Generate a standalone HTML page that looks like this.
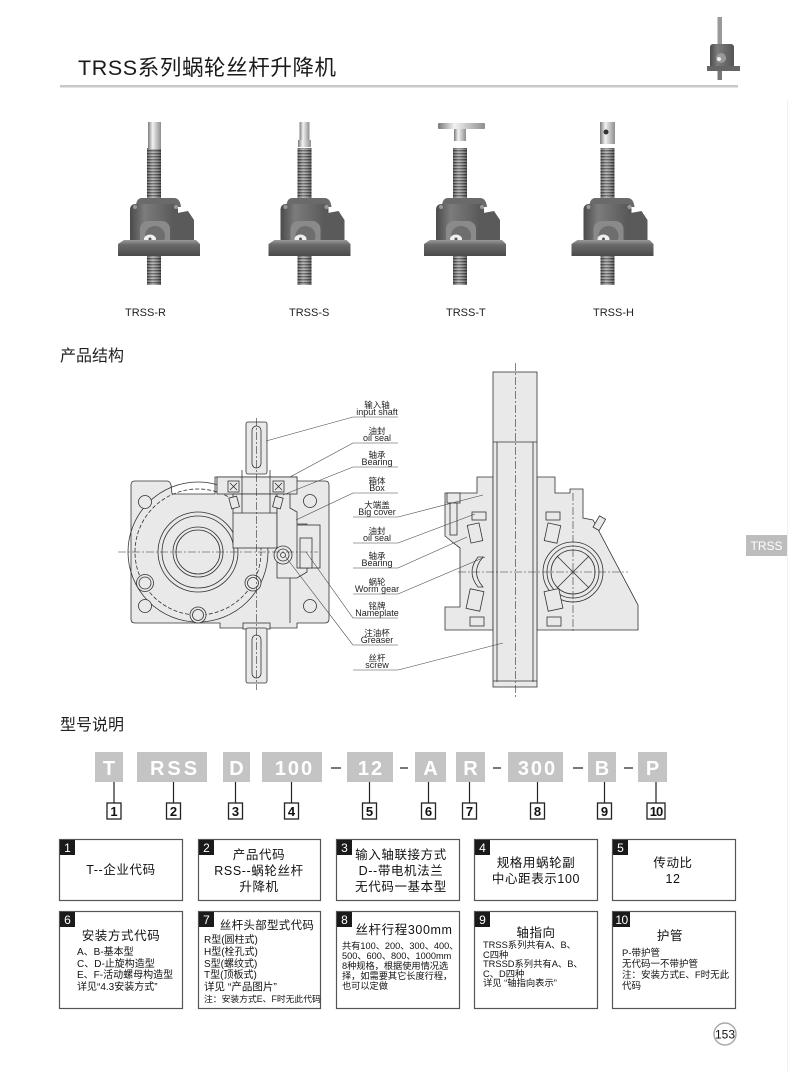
<!DOCTYPE html>
<html><head><meta charset="utf-8">
<style>
html,body{margin:0;padding:0;background:#fff;}
svg{display:block;}
text{font-family:"Liberation Sans","Noto Sans CJK SC",sans-serif;}
</style></head><body>
<svg width="800" height="1071" viewBox="0 0 800 1071" xmlns="http://www.w3.org/2000/svg" xmlns:xlink="http://www.w3.org/1999/xlink">
<defs>
<pattern id="th" width="4" height="3" patternUnits="userSpaceOnUse"><rect width="4" height="3" fill="#a4a4a4"/><rect width="4" height="1.4" fill="#454545"/></pattern>
<linearGradient id="cyl" x1="0" x2="1"><stop offset="0" stop-color="#000" stop-opacity="0.3"/><stop offset="0.4" stop-color="#fff" stop-opacity="0.25"/><stop offset="1" stop-color="#000" stop-opacity="0.4"/></linearGradient>
<linearGradient id="smooth" x1="0" x2="1"><stop offset="0" stop-color="#7a7a7a"/><stop offset="0.35" stop-color="#f2f2f2"/><stop offset="1" stop-color="#8e8e8e"/></linearGradient>
<linearGradient id="bodyg" x1="0" x2="1"><stop offset="0" stop-color="#4a4a4a"/><stop offset="0.3" stop-color="#7c7c7c"/><stop offset="1" stop-color="#555"/></linearGradient>
<linearGradient id="baseg" x1="0" y1="0" x2="0" y2="1"><stop offset="0" stop-color="#9a9a9a"/><stop offset="0.3" stop-color="#6a6a6a"/><stop offset="1" stop-color="#4a4a4a"/></linearGradient>
<g id="jack">
  <rect x="-7" y="148" width="14" height="52" fill="url(#th)"/>
  <rect x="-7" y="148" width="14" height="52" fill="url(#cyl)"/>
  <path d="M-18,207 Q-18,198 -12,198 L20,198 Q26,198 27,207 Z" fill="#6a6a6a"/>
  <rect x="-24" y="204" width="48" height="40" rx="5" fill="url(#bodyg)"/>
  <circle cx="-19" cy="207" r="2" fill="#999"/><circle cx="22" cy="207" r="2" fill="#999"/>
  <path d="M18,214 L34,211 L40,220 L40,244 L18,244 Z" fill="#5a5a5a"/>
  <rect x="-14" y="221" width="30" height="27" rx="8" fill="#8a8a8a"/>
  <circle cx="1" cy="236" r="10" fill="#6e6e6e"/>
  <ellipse cx="-4" cy="239" rx="6" ry="4.5" fill="#f0f0f0"/>
  <circle cx="-4" cy="239" r="1.5" fill="#555"/>
  <path d="M-36,244 L-30,240 L42,240 L46,244 L46,256 L-36,256 Z" fill="url(#baseg)"/>
  <rect x="-7" y="256" width="14" height="29" fill="url(#th)"/>
  <rect x="-7" y="256" width="14" height="29" fill="url(#cyl)"/>
</g>
</defs>

<!-- Header -->
<text x="78" y="75" font-size="21.5" fill="#1a1a1a" letter-spacing="0.6">TRSS系列蜗轮丝杆升降机</text>
<rect x="60" y="85" width="678" height="2.5" fill="#c8c8c8"/>
<g>
  <rect x="717.5" y="17" width="4.5" height="30" fill="#999"/>
  <rect x="710" y="44" width="24" height="24" rx="3" fill="url(#bodyg)"/>
  <circle cx="721" cy="58" r="5" fill="#999"/>
  <circle cx="719" cy="59" r="2" fill="#eee"/>
  <rect x="707" y="66" width="33" height="5" fill="#666"/>
  <rect x="717.5" y="71" width="4.5" height="9" fill="#777"/>
</g>

<!-- Products -->
<use xlink:href="#jack" transform="translate(154,0)"/>
<rect x="148" y="122" width="13" height="27" fill="url(#smooth)"/>
<use xlink:href="#jack" transform="translate(304.5,0)"/>
<rect x="299.5" y="122" width="10" height="18" fill="url(#smooth)"/>
<rect x="298" y="140" width="13" height="7" fill="url(#smooth)"/>
<use xlink:href="#jack" transform="translate(460,0)"/>
<rect x="438" y="123" width="47" height="6" rx="1" fill="url(#smooth)"/>
<rect x="454" y="129" width="12" height="12" fill="url(#smooth)"/>
<use xlink:href="#jack" transform="translate(607.5,0)"/>
<rect x="600" y="122" width="15" height="22" fill="url(#smooth)"/>
<circle cx="606" cy="132" r="2.5" fill="#333"/>

<g font-size="11" fill="#222">
<text x="125" y="316">TRSS-R</text>
<text x="289" y="316">TRSS-S</text>
<text x="446" y="316">TRSS-T</text>
<text x="593" y="316">TRSS-H</text>
</g>

<!-- Section title -->
<text x="60" y="361" font-size="16" fill="#222">产品结构</text>

<!-- Left diagram -->
<g fill="#e9e9e9" stroke="#333" stroke-width="0.8">
  <path d="M131,485 Q131,481 135,481 L167,481 Q170,481 171,485 L172,494 L215,494 L215,477 L297,477 L297,481 L325,481 Q329,481 329,485 L329,619 Q329,623 325,623 L297,623 L297,628 L220,628 L220,623 L135,623 Q131,623 131,619 Z"/>
  <circle cx="198" cy="552" r="70" fill="none"/>
  <circle cx="198" cy="552" r="63" fill="none" stroke-dasharray="4 2"/>
  <circle cx="198" cy="552" r="40" fill="none"/>
  <circle cx="198" cy="552" r="36" fill="none"/>
  <circle cx="198" cy="552" r="25" fill="none"/>
  <circle cx="198" cy="552" r="22" fill="none"/>
  <circle cx="145" cy="502" r="6.5"/>
  <circle cx="145" cy="583" r="8.5"/><circle cx="145" cy="583" r="6"/>
  <circle cx="145" cy="606" r="6.5"/>
  <circle cx="310" cy="501" r="6.5"/>
  <circle cx="310" cy="606" r="6.5"/>
  <circle cx="253" cy="583" r="8"/><circle cx="253" cy="583" r="5.5"/>
  <circle cx="198" cy="615" r="8"/><circle cx="198" cy="615" r="5.5"/>
  <rect x="217" y="477" width="80" height="17"/>
  <rect x="233" y="494" width="44" height="54"/>
  <path d="M277,494 L290,494 L290,508 L297,512 L297,524 L307,524 L307,572 L297,578 L277,578 Z"/>
  <rect x="297" y="525" width="23" height="43"/>
  <rect x="300" y="538" width="12" height="30"/>
  <line x1="290" y1="578" x2="290" y2="623"/>
  <line x1="242" y1="470" x2="242" y2="513"/>
  <line x1="270" y1="470" x2="270" y2="513"/>
  <line x1="233" y1="513" x2="277" y2="513"/>
  <rect x="228" y="481" width="11" height="11"/>
  <rect x="273" y="481" width="11" height="11"/>
  <path d="M230,483 L237,490 M237,483 L230,490 M275,483 L282,490 M282,483 L275,490" fill="none"/>
  <rect x="230" y="497" width="8" height="11" transform="rotate(-15 234 502)"/>
  <rect x="274" y="497" width="8" height="11" transform="rotate(15 278 502)"/>
  <rect x="246" y="422" width="21" height="52" rx="2"/>
  <rect x="252" y="426" width="9" height="42" rx="4.5"/>
  <rect x="243" y="623" width="27" height="6"/>
  <rect x="246" y="628" width="21" height="55" rx="2"/>
  <rect x="252" y="635" width="9" height="43" rx="4.5"/>
  <circle cx="283" cy="555" r="9"/><circle cx="283" cy="555" r="6"/><circle cx="283" cy="555" r="2.5"/>
</g>
<g stroke="#333" stroke-width="0.6" stroke-dasharray="8 2 2 2" fill="none">
  <line x1="256.5" y1="418" x2="256.5" y2="690"/>
  <line x1="118" y1="552" x2="318" y2="552"/>
</g>

<!-- Right diagram -->
<g fill="#e9e9e9" stroke="#333" stroke-width="0.8">
  <path d="M477,477 L493,477 L493,630 L445,630 L445,607 L460,607 L460,548 Q452,542 445,536 L445,493 L477,493 Z"/>
  <path d="M537,477 L555,477 L555,493 L570,493 L570,489 L583,489 L583,518 L593,520 L638,605 L638,630 L537,630 Z"/>
  <rect x="447" y="493" width="13" height="10"/>
  <rect x="450" y="503" width="7" height="32"/>
  <circle cx="573" cy="572" r="30" fill="none"/>
  <circle cx="573" cy="572" r="26"/>
  <circle cx="573" cy="572" r="22"/>
  <path d="M557,556 L589,588 M589,556 L557,588" fill="none"/>
  <rect x="472" y="512" width="14" height="8"/>
  <rect x="469" y="524" width="12" height="18" transform="rotate(-12 475 533)"/>
  <rect x="468" y="590" width="14" height="20" transform="rotate(12 475 600)"/>
  <rect x="470" y="617" width="14" height="9"/>
  <rect x="546" y="512" width="14" height="8"/>
  <rect x="546" y="524" width="13" height="18" transform="rotate(12 552 533)"/>
  <rect x="546" y="590" width="15" height="20" transform="rotate(-12 553 600)"/>
  <rect x="547" y="617" width="14" height="9"/>
  <path d="M483,557 Q470,572 483,587 L478,587 Q466,572 478,557 Z"/>
  <rect x="596" y="517" width="7" height="13" transform="rotate(30 600 523)"/>
  <rect x="493" y="372" width="44" height="315"/>
  <line x1="493" y1="442" x2="537" y2="442"/>
  <line x1="497" y1="442" x2="497" y2="682"/>
  <line x1="533" y1="442" x2="533" y2="682"/>
  <line x1="493" y1="681" x2="537" y2="681"/>
</g>
<g stroke="#333" stroke-width="0.6" stroke-dasharray="8 2 2 2" fill="none">
  <line x1="515.5" y1="363" x2="515.5" y2="697"/>
  <line x1="458" y1="572" x2="628" y2="572"/>
  <line x1="573" y1="493" x2="573" y2="632"/>
</g>

<!-- Leaders -->
<g stroke="#444" stroke-width="0.6" fill="none">
  <path d="M398,417 L353,417 L266,441"/>
  <path d="M398,443 L353,443 L290,477"/>
  <path d="M398,467 L353,467 L283,495"/>
  <path d="M398,493 L353,493 L296,520"/>
  <path d="M353,517 L398,517 L483,495"/>
  <path d="M353,543 L398,543 L475,514"/>
  <path d="M353,568 L398,568 L467,537"/>
  <path d="M353,594 L398,594 L485,557"/>
  <path d="M398,618 L353,618 L306,552"/>
  <path d="M398,645 L353,645 L285,556"/>
  <path d="M353,670 L398,670 L503,643"/>
</g>
<g font-size="9" fill="#222" text-anchor="middle">
  <text x="377" y="408" font-size="8.5">输入轴</text><text x="377" y="415">input shaft</text>
  <text x="377" y="434" font-size="8.5">油封</text><text x="377" y="441">oil seal</text>
  <text x="377" y="458" font-size="8.5">轴承</text><text x="377" y="465">Bearing</text>
  <text x="377" y="484" font-size="8.5">箱体</text><text x="377" y="491">Box</text>
  <text x="377" y="508" font-size="8.5">大端盖</text><text x="377" y="515">Big cover</text>
  <text x="377" y="534" font-size="8.5">油封</text><text x="377" y="541">oil seal</text>
  <text x="377" y="559" font-size="8.5">轴承</text><text x="377" y="566">Bearing</text>
  <text x="377" y="585" font-size="8.5">蜗轮</text><text x="377" y="592">Worm gear</text>
  <text x="377" y="609" font-size="8.5">铭牌</text><text x="377" y="616">Nameplate</text>
  <text x="377" y="636" font-size="8.5">注油杯</text><text x="377" y="643">Greaser</text>
  <text x="377" y="661" font-size="8.5">丝杆</text><text x="377" y="668">screw</text>
</g>

<!-- TRSS tab -->
<line x1="787.5" y1="100" x2="787.5" y2="1071" stroke="#f0f0f0" stroke-width="1"/>
<rect x="746" y="535" width="41" height="21" fill="#bdbdbd"/>
<text x="766.5" y="550" font-size="12" fill="#fff" text-anchor="middle">TRSS</text>

<!-- Model code -->
<text x="60" y="730" font-size="16" fill="#222">型号说明</text>
<g fill="#c4c4c4">
  <rect x="95" y="752" width="28" height="30"/>
  <rect x="137" y="752" width="70" height="30"/>
  <rect x="223" y="752" width="27" height="30"/>
  <rect x="262" y="752" width="60" height="30"/>
  <rect x="347" y="752" width="46" height="30"/>
  <rect x="415" y="752" width="31" height="30"/>
  <rect x="456" y="752" width="29" height="30"/>
  <rect x="508" y="752" width="55" height="30"/>
  <rect x="588" y="752" width="28" height="30"/>
  <rect x="638" y="752" width="29" height="30"/>
</g>
<g stroke="#555" stroke-width="1.6">
  <line x1="331" y1="768" x2="341" y2="768"/>
  <line x1="400" y1="768" x2="408" y2="768"/>
  <line x1="493" y1="768" x2="501" y2="768"/>
  <line x1="573" y1="768" x2="583" y2="768"/>
  <line x1="624" y1="768" x2="633" y2="768"/>
</g>
<g font-size="20" font-weight="bold" fill="#fff" text-anchor="middle">
  <text x="109" y="775">T</text>
  <text x="173.5" y="775" letter-spacing="3" dx="1.5">RSS</text>
  <text x="236.5" y="775">D</text>
  <text x="293.5" y="775" letter-spacing="2" dx="1">100</text>
  <text x="370" y="775" letter-spacing="2" dx="1">12</text>
  <text x="430.5" y="775">A</text>
  <text x="470.5" y="775">R</text>
  <text x="536.5" y="775" letter-spacing="2" dx="1">300</text>
  <text x="602" y="775">B</text>
  <text x="652.5" y="775">P</text>
</g>
<g stroke="#222" stroke-width="1.2">
  <line x1="114" y1="782" x2="114" y2="803"/>
  <line x1="173.5" y1="782" x2="173.5" y2="803"/>
  <line x1="235.5" y1="782" x2="235.5" y2="803"/>
  <line x1="291.5" y1="782" x2="291.5" y2="803"/>
  <line x1="369.5" y1="782" x2="369.5" y2="803"/>
  <line x1="428.5" y1="782" x2="428.5" y2="803"/>
  <line x1="469.5" y1="782" x2="469.5" y2="803"/>
  <line x1="537.5" y1="782" x2="537.5" y2="803"/>
  <line x1="604.5" y1="782" x2="604.5" y2="803"/>
  <line x1="656" y1="782" x2="656" y2="803"/>
</g>
<g fill="#fff" stroke="#222" stroke-width="1.3">
  <rect x="107" y="803" width="14" height="16"/>
  <rect x="166.5" y="803" width="14" height="16"/>
  <rect x="228.5" y="803" width="14" height="16"/>
  <rect x="284.5" y="803" width="14" height="16"/>
  <rect x="362.5" y="803" width="14" height="16"/>
  <rect x="421.5" y="803" width="14" height="16"/>
  <rect x="462.5" y="803" width="14" height="16"/>
  <rect x="530.5" y="803" width="14" height="16"/>
  <rect x="597.5" y="803" width="14" height="16"/>
  <rect x="647" y="803" width="18" height="16"/>
</g>
<g font-size="13" font-weight="bold" fill="#111" text-anchor="middle">
  <text x="114" y="816">1</text>
  <text x="173.5" y="816">2</text>
  <text x="235.5" y="816">3</text>
  <text x="291.5" y="816">4</text>
  <text x="369.5" y="816">5</text>
  <text x="428.5" y="816">6</text>
  <text x="469.5" y="816">7</text>
  <text x="537.5" y="816">8</text>
  <text x="604.5" y="816">9</text>
  <text x="656" y="816" letter-spacing="-1">10</text>
</g>

<!-- Description boxes -->
<g fill="#fff" stroke="#555" stroke-width="1.2">
  <rect x="59.5" y="839.5" width="123" height="61"/>
  <rect x="198.5" y="839.5" width="122" height="61"/>
  <rect x="336.5" y="839.5" width="123" height="61"/>
  <rect x="474.5" y="839.5" width="123" height="61"/>
  <rect x="612.5" y="839.5" width="123" height="61"/>
  <rect x="59.5" y="911.5" width="123" height="97"/>
  <rect x="198.5" y="911.5" width="122" height="97"/>
  <rect x="336.5" y="911.5" width="123" height="97"/>
  <rect x="474.5" y="911.5" width="123" height="97"/>
  <rect x="612.5" y="911.5" width="123" height="97"/>
</g>
<g fill="#1a1a1a">
  <rect x="60" y="840" width="15" height="15"/>
  <rect x="199" y="840" width="15" height="15"/>
  <rect x="337" y="840" width="15" height="15"/>
  <rect x="475" y="840" width="15" height="15"/>
  <rect x="613" y="840" width="15" height="15"/>
  <rect x="60" y="912" width="15" height="15"/>
  <rect x="199" y="912" width="15" height="15"/>
  <rect x="337" y="912" width="15" height="15"/>
  <rect x="475" y="912" width="15" height="15"/>
  <rect x="613" y="912" width="17" height="15"/>
</g>
<g font-size="12" fill="#fff" text-anchor="middle">
  <text x="67.5" y="852">1</text>
  <text x="206.5" y="852">2</text>
  <text x="344.5" y="852">3</text>
  <text x="482.5" y="852">4</text>
  <text x="620.5" y="852">5</text>
  <text x="67.5" y="924">6</text>
  <text x="206.5" y="924">7</text>
  <text x="344.5" y="924">8</text>
  <text x="482.5" y="924">9</text>
  <text x="621.5" y="924" letter-spacing="-0.5">10</text>
</g>
<g font-size="12.5" fill="#111" text-anchor="middle" letter-spacing="0.6">
  <text x="121" y="874">T--企业代码</text>
  <text x="259" y="859">产品代码</text>
  <text x="259" y="875">RSS--蜗轮丝杆</text>
  <text x="259" y="891">升降机</text>
  <text x="401" y="859">输入轴联接方式</text>
  <text x="401" y="875">D--带电机法兰</text>
  <text x="401" y="891">无代码一基本型</text>
  <text x="536" y="867">规格用蜗轮副</text>
  <text x="536" y="883">中心距表示100</text>
  <text x="673" y="867">传动比</text>
  <text x="673" y="883">12</text>
  <text x="121" y="940">安装方式代码</text>
  <text x="267" y="929" font-size="11.5" letter-spacing="0.3">丝杆头部型式代码</text>
  <text x="404" y="934">丝杆行程300mm</text>
  <text x="536" y="937">轴指向</text>
  <text x="670" y="940">护管</text>
</g>
<g fill="#111">
  <g font-size="10">
    <text x="77" y="955">A、B-基本型</text>
    <text x="77" y="967">C、D-止旋构造型</text>
    <text x="77" y="978">E、F-活动螺母构造型</text>
    <text x="77" y="990">详见“4.3安装方式”</text>
  </g>
  <g font-size="10">
    <text x="204" y="943">R型(圆柱式)</text>
    <text x="204" y="955">H型(栓孔式)</text>
    <text x="204" y="967">S型(螺纹式)</text>
    <text x="204" y="978">T型(顶板式)</text>
    <text x="204" y="990" font-size="10.5">详见 “产品图片”</text>
    <text x="204" y="1002" font-size="8.8">注：安装方式E、F时无此代码</text>
  </g>
  <g font-size="9.2">
    <text x="342" y="949">共有100、200、300、400、</text>
    <text x="342" y="959">500、600、800、1000mm</text>
    <text x="342" y="969">8种规格，根据使用情况选</text>
    <text x="342" y="979">择，如需要其它长度行程，</text>
    <text x="342" y="989">也可以定做</text>
  </g>
  <g font-size="9.3">
    <text x="483" y="948">TRSS系列共有A、B、</text>
    <text x="483" y="958">C四种</text>
    <text x="483" y="967">TRSSD系列共有A、B、</text>
    <text x="483" y="977">C、D四种</text>
    <text x="483" y="986">详见 “轴指向表示”</text>
  </g>
  <g font-size="9.5">
    <text x="622" y="956">P-带护管</text>
    <text x="622" y="967">无代码一不带护管</text>
    <text x="622" y="978">注：安装方式E、F时无此</text>
    <text x="622" y="989">代码</text>
  </g>
</g>

<!-- Page number -->
<circle cx="725" cy="1034" r="11" fill="#fff" stroke="#aaa" stroke-width="1.5"/>
<text x="725" y="1038.5" font-size="12" fill="#111" text-anchor="middle">153</text>
</svg>
</body></html>
